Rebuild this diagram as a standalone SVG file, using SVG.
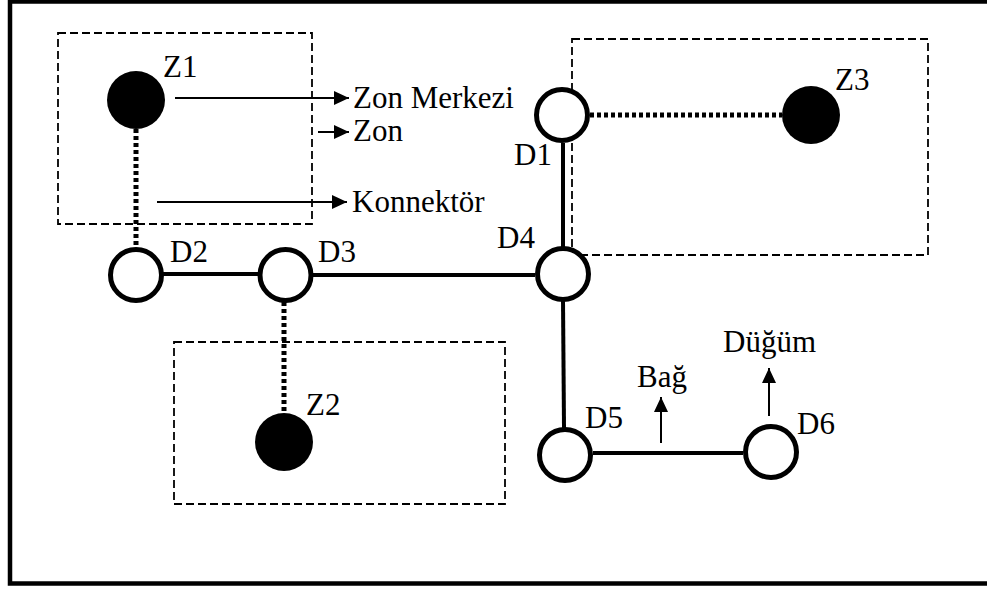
<svg xmlns="http://www.w3.org/2000/svg" width="987" height="590" viewBox="0 0 987 590">
<defs>
<marker id="ah" markerUnits="userSpaceOnUse" markerWidth="16" markerHeight="14" refX="15" refY="7" orient="auto">
<path d="M0,0 L15,7 L0,14 Z" fill="#000"/>
</marker>
<style>
.t{font-family:"Liberation Serif","Times New Roman",serif;font-size:31px;fill:#000}
.zone{fill:none;stroke:#000;stroke-width:1.8;stroke-dasharray:8 4}
.node{fill:#fff;stroke:#000;stroke-width:5}
.center{fill:#000}
.link{stroke:#000;stroke-width:4;fill:none}
.conn{stroke:#000;stroke-width:5;stroke-dasharray:4 3;fill:none}
.arr{stroke:#000;stroke-width:2;fill:none;marker-end:url(#ah)}
</style>
</defs>
<rect x="10" y="1.5" width="990" height="582" fill="#fff" stroke="#000" stroke-width="4.5"/>
<g id="zones">
<rect class="zone" x="58" y="33" width="254" height="191"/>
<rect class="zone" x="572" y="39" width="356" height="216"/>
<rect class="zone" x="174" y="342" width="331" height="162"/>
</g>
<g id="connectors">
<line class="conn" x1="136" y1="129" x2="136" y2="248"/>
<line class="conn" x1="590" y1="115" x2="782" y2="115"/>
<line class="conn" x1="284" y1="302" x2="284" y2="413"/>
<line class="link" x1="163" y1="274" x2="258" y2="274"/>
<line class="link" x1="313" y1="275" x2="535" y2="275"/>
<line class="link" x1="563" y1="143" x2="563" y2="248"/>
<line class="link" x1="563" y1="300" x2="564" y2="428"/>
<line class="link" x1="593" y1="453" x2="743" y2="453"/>
<line class="arr" x1="175" y1="98" x2="349" y2="98"/>
<line class="arr" x1="318" y1="132" x2="349" y2="132"/>
<line class="arr" x1="157" y1="202" x2="347" y2="202"/>
<line class="arr" x1="661" y1="443" x2="661" y2="397"/>
<line class="arr" x1="769" y1="416" x2="769" y2="368"/>
</g>
<g id="Z1"><circle class="center" cx="136" cy="100" r="29"/><text class="t" x="163" y="77">Z1</text></g>
<g id="Z2"><circle class="center" cx="284" cy="442" r="29"/><text class="t" x="306" y="415">Z2</text></g>
<g id="Z3"><circle class="center" cx="811" cy="115" r="29"/><text class="t" x="835" y="90">Z3</text></g>
<g id="D1"><circle class="node" cx="562" cy="115" r="25.5"/><text class="t" x="514" y="165">D1</text></g>
<g id="D2"><circle class="node" cx="136" cy="275" r="25.5"/><text class="t" x="170" y="262">D2</text></g>
<g id="D3"><circle class="node" cx="285.5" cy="275" r="25.5"/><text class="t" x="318" y="262">D3</text></g>
<g id="D4"><circle class="node" cx="563" cy="274" r="25.5"/><text class="t" x="497" y="248">D4</text></g>
<g id="D5"><circle class="node" cx="565" cy="455" r="25.5"/><text class="t" x="585" y="428">D5</text></g>
<g id="D6"><circle class="node" cx="771" cy="452" r="25.5"/><text class="t" x="797" y="434">D6</text></g>
<g id="labels">
<text class="t" x="353" y="108">Zon Merkezi</text>
<text class="t" x="353" y="141">Zon</text>
<text class="t" x="352" y="212">Konnektör</text>
<text class="t" x="637" y="387">Bağ</text>
<text class="t" x="723" y="352">Düğüm</text>
</g>
</svg>
